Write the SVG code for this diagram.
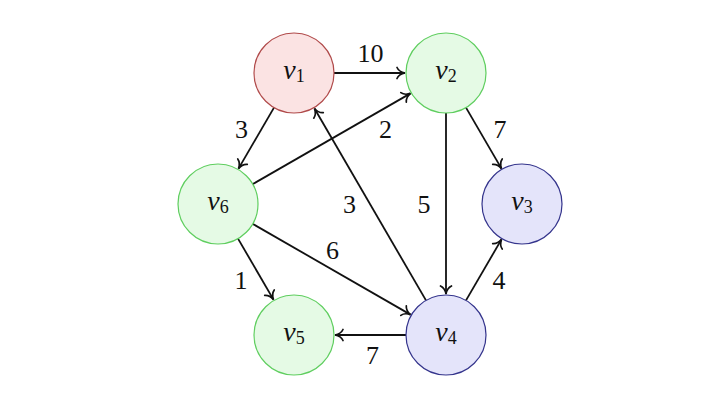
<svg xmlns="http://www.w3.org/2000/svg" width="720" height="409" viewBox="0 0 720 409">
<style>
.red{fill:#fbe3e3;stroke:#b04a4a;stroke-width:1.2}
.green{fill:#e5fae5;stroke:#5fce5f;stroke-width:1.2}
.blue{fill:#e4e4fa;stroke:#34348c;stroke-width:1.2}
text{font-size:26px;fill:#111;text-anchor:middle}
.v{font-style:italic;font-size:28px}
.sub{font-size:18px;font-style:normal}
.e{stroke:#111;stroke-width:1.8;fill:none;marker-end:url(#arr)}
</style>
<defs>
<marker id="arr" markerUnits="userSpaceOnUse" viewBox="-10 -7 12 14" refX="0" refY="0" markerWidth="12" markerHeight="14" orient="auto" overflow="visible">
<path d="M -8 -5.5 C -6.5 -2.2 -2.6 -0.5 0 0 C -2.6 0.5 -6.5 2.2 -8 5.5" fill="none" stroke="#111" stroke-width="1.7" stroke-linecap="round"/>
</marker>
</defs>
<g font-family="Liberation Serif, Times New Roman, serif">
<g id="connectors">
<line class="e" x1="334" y1="73" x2="405" y2="73"/>
<line class="e" x1="274" y1="107.6" x2="238.5" y2="168.6"/>
<line class="e" x1="252.7" y1="184.1" x2="410.5" y2="93.4"/>
<line class="e" x1="466" y1="107.6" x2="501.5" y2="168.6"/>
<line class="e" x1="446" y1="113" x2="446" y2="294"/>
<line class="e" x1="426" y1="300.4" x2="314.5" y2="108.5"/>
<line class="e" x1="252.7" y1="223.9" x2="410.5" y2="314.6"/>
<line class="e" x1="238" y1="238.6" x2="273.5" y2="299.6"/>
<line class="e" x1="466" y1="300.4" x2="501.5" y2="239.4"/>
<line class="e" x1="406" y1="335" x2="335" y2="335"/>
<text x="370.5" y="61.5">10</text>
<text x="241.5" y="138">3</text>
<text x="385.5" y="138">2</text>
<text x="500" y="138">7</text>
<text x="424" y="213">5</text>
<text x="349.5" y="213">3</text>
<text x="332.5" y="259">6</text>
<text x="241" y="289">1</text>
<text x="499" y="289">4</text>
<text x="372.5" y="364">7</text>
</g>
<g id="v1"><circle class="red" cx="294" cy="73" r="40"/><text x="294" y="78.5"><tspan class="v">v</tspan><tspan class="sub" dy="3">1</tspan></text></g>
<g id="v2"><circle class="green" cx="446" cy="73" r="40"/><text x="446" y="78.5"><tspan class="v">v</tspan><tspan class="sub" dy="3">2</tspan></text></g>
<g id="v3"><circle class="blue" cx="522" cy="204" r="40"/><text x="522" y="209.5"><tspan class="v">v</tspan><tspan class="sub" dy="3">3</tspan></text></g>
<g id="v4"><circle class="blue" cx="446" cy="335" r="40"/><text x="446" y="340.5"><tspan class="v">v</tspan><tspan class="sub" dy="3">4</tspan></text></g>
<g id="v5"><circle class="green" cx="294" cy="335" r="40"/><text x="294" y="340.5"><tspan class="v">v</tspan><tspan class="sub" dy="3">5</tspan></text></g>
<g id="v6"><circle class="green" cx="218" cy="204" r="40"/><text x="218" y="209.5"><tspan class="v">v</tspan><tspan class="sub" dy="3">6</tspan></text></g>
</g>
</svg>
